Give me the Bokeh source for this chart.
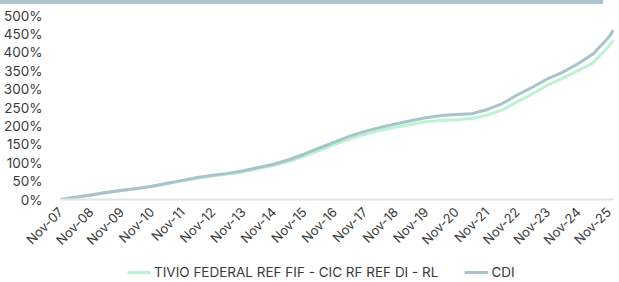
import math
from bokeh.plotting import figure
from bokeh.models import (Range1d, FixedTicker, PrintfTickFormatter, Legend, LegendItem,
                          Div, ColumnDataSource)
from bokeh.layouts import column
from bokeh.embed import file_html
from bokeh.resources import INLINE

# ---- data (cumulative return, %) ----
dates = ["2007-11", "2008-05", "2008-11", "2009-05", "2009-11", "2010-05", "2010-11",
         "2011-05", "2011-11", "2012-05", "2012-11", "2013-05", "2013-11", "2014-05",
         "2014-11", "2015-05", "2015-11", "2016-05", "2016-11", "2017-05", "2017-11",
         "2018-05", "2018-11", "2019-05", "2019-11", "2020-05", "2020-11", "2021-05",
         "2021-11", "2022-05", "2022-11", "2023-05", "2023-11", "2024-05", "2024-11",
         "2025-05", "2025-11", "2026-01"]
fund = [0, 6, 12, 19, 24, 29, 35, 43, 51, 58, 64, 69, 75, 84, 92, 103, 117, 133, 149,
        164, 177, 188, 196, 204, 211, 215, 217, 220, 229, 243, 265, 287, 311, 330, 350,
        372, 416, 433]
cdi = [0, 6, 12, 19, 25, 30, 36, 44, 52, 60, 66, 71, 78, 87, 96, 108, 123, 140, 156,
       172, 185, 196, 205, 214, 222, 228, 231, 233, 244, 260, 284, 305, 328, 346, 369,
       396, 440, 460]
tick_labels = ["Nov-07", "Nov-08", "Nov-09", "Nov-10", "Nov-11", "Nov-12", "Nov-13",
               "Nov-14", "Nov-15", "Nov-16", "Nov-17", "Nov-18", "Nov-19", "Nov-20",
               "Nov-21", "Nov-22", "Nov-23", "Nov-24", "Nov-25"]
y_ticks = [0, 50, 100, 150, 200, 250, 300, 350, 400, 450, 500]
fund_name = "TIVIO FEDERAL REF FIF - CIC RF REF DI - RL"
cdi_name = "CDI"


def to_year(s):
    y, m = s.split("-")
    return int(y) + (int(m) - 1) / 12.0


xs = [to_year(d) for d in dates]
tick_pos = [2000 + int(t[-2:]) + 10 / 12.0 for t in tick_labels]

FONT = "Inter"
TXT = "#3a3a3a"
C_FUND = "#bdf2d5"
C_CDI = "#a9c3cb"

src = ColumnDataSource(dict(x=xs, fund=fund, cdi=cdi))

p = figure(frame_width=554, frame_height=184, output_backend="svg", toolbar_location=None,
           x_range=Range1d(tick_pos[0], 2026.03), y_range=Range1d(0, 500),
           min_border_left=49, min_border_right=0, min_border_top=11, min_border_bottom=44)
p.outline_line_color = None
p.xgrid.visible = False
p.ygrid.visible = False

p.line("x", "fund", source=src, line_color=C_FUND, line_width=3)
p.line("x", "cdi", source=src, line_color=C_CDI, line_width=3)

xa = p.xaxis[0]
xa.ticker = FixedTicker(ticks=tick_pos)
xa.major_label_overrides = {tp: lab for tp, lab in zip(tick_pos, tick_labels)}
xa.major_label_orientation = math.pi / 4
xa.axis_line_color = "#e3e3e3"
xa.axis_line_width = 2
xa.major_tick_line_color = None
xa.minor_tick_line_color = None
xa.major_label_text_font = FONT
xa.major_label_text_font_size = "13px"
xa.major_label_text_color = TXT
xa.major_label_standoff = 4

ya = p.yaxis[0]
ya.ticker = FixedTicker(ticks=y_ticks)
ya.formatter = PrintfTickFormatter(format="%d%%")
ya.axis_line_color = None
ya.major_tick_line_color = None
ya.minor_tick_line_color = None
ya.major_label_text_font = FONT
ya.major_label_text_font_size = "13.5px"
ya.major_label_text_color = TXT
ya.major_label_standoff = 12

# separate strip holding the legend; its lines sit outside the visible range
lf = figure(width=603, height=25, output_backend="svg", toolbar_location=None,
            x_range=Range1d(0, 1), y_range=Range1d(0, 1), min_border=0,
            x_axis_location=None, y_axis_location=None)
lf.grid.visible = False
lf.outline_line_color = None
l_fund = lf.line(x=[-5, -4], y=[-5, -4], line_color=C_FUND, line_width=3)
l_cdi = lf.line(x=[-5, -4], y=[-5, -4], line_color=C_CDI, line_width=3)

legend = Legend(items=[LegendItem(label=fund_name, renderers=[l_fund]),
                       LegendItem(label=cdi_name, renderers=[l_cdi])],
                orientation="horizontal", location=(67, 1),
                label_text_font=FONT, label_text_font_size="13.5px",
                label_text_color=TXT, glyph_width=24, glyph_height=16,
                label_standoff=3, label_height=16,
                spacing=26, border_line_color=None, padding=1, margin=0,
                background_fill_alpha=0)
lf.add_layout(legend, "center")

banner = Div(text="", width=603, height=4, margin=(0, 0, 0, 0),
             styles={"background-color": "#acc5cc"})

layout = column(banner, p, lf, spacing=0)
open("out.html", "w").write(file_html(layout, INLINE))
